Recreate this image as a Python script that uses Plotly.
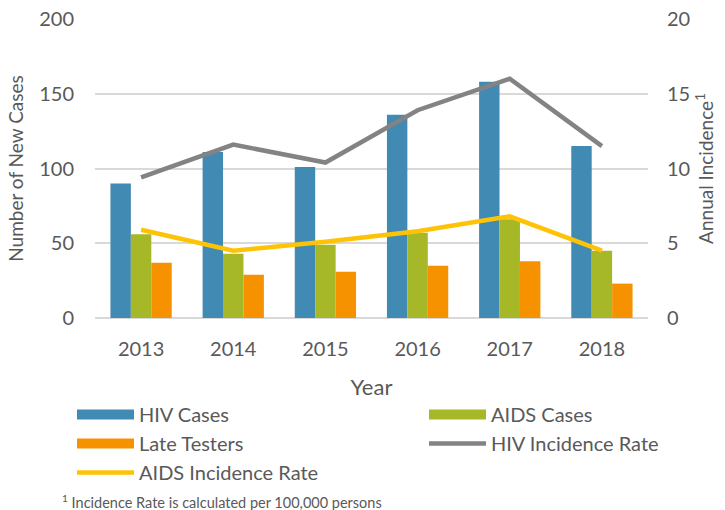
import plotly.graph_objects as go

years = ["2013", "2014", "2015", "2016", "2017", "2018"]
hiv_cases = [90, 111, 101, 136, 158, 115]
aids_cases = [56, 43, 49, 57, 66, 45]
late_testers = [37, 29, 31, 35, 38, 23]
hiv_rate = [9.4, 11.6, 10.4, 13.9, 16.0, 11.5]
aids_rate = [5.9, 4.5, 5.1, 5.8, 6.8, 4.5]

FONT = "Lato"
TXT = "#595959"
C_HIV, C_AIDS, C_LATE = "#418AB3", "#A6B727", "#F69200"
C_HIVR, C_AIDSR = "#838383", "#FEC306"

fig = go.Figure()
# bars (legend drawn through swatch entries below)
fig.add_trace(go.Bar(x=years, y=hiv_cases, name="HIV Cases", showlegend=False,
                     marker=dict(color=C_HIV, line=dict(width=0))))
fig.add_trace(go.Bar(x=years, y=aids_cases, name="AIDS Cases", showlegend=False,
                     marker=dict(color=C_AIDS, line=dict(width=0))))
fig.add_trace(go.Bar(x=years, y=late_testers, name="Late Testers", showlegend=False,
                     marker=dict(color=C_LATE, line=dict(width=0))))
# rate lines
fig.add_trace(go.Scatter(x=years, y=hiv_rate, name="HIV Incidence Rate", mode="lines",
                         line=dict(color=C_HIVR, width=4.5), yaxis="y2", legend="legend2",
                         legendrank=2))
fig.add_trace(go.Scatter(x=years, y=aids_rate, name="AIDS Incidence Rate", mode="lines",
                         line=dict(color=C_AIDSR, width=4.5), yaxis="y2", legend="legend",
                         legendrank=3))
# legend swatches for the bar series (wide rectangles as in the reference)
fig.add_trace(go.Scatter(x=[None], y=[None], name="HIV Cases", mode="lines",
                         line=dict(color=C_HIV, width=12), legend="legend", legendrank=1))
fig.add_trace(go.Scatter(x=[None], y=[None], name="Late Testers", mode="lines",
                         line=dict(color=C_LATE, width=12), legend="legend", legendrank=2))
fig.add_trace(go.Scatter(x=[None], y=[None], name="AIDS Cases", mode="lines",
                         line=dict(color=C_AIDS, width=12), legend="legend2", legendrank=1))

PLOT_TOP, PLOT_BOT = 19, 318
PH = PLOT_BOT - PLOT_TOP
PL, PW = 95, 553

def py(pix):
    return (PLOT_BOT - pix) / PH

def px(pix):
    return (pix - PL) / PW

leg_common = dict(orientation="v", xref="paper", yref="paper",
                  xanchor="left", yanchor="top", itemwidth=57,
                  font=dict(size=20, color=TXT, family=FONT), traceorder="normal",
                  bgcolor="rgba(0,0,0,0)", tracegroupgap=0)

fig.update_layout(
    width=725, height=510,
    margin=dict(l=PL, r=725 - PL - PW, t=PLOT_TOP, b=510 - PLOT_BOT),
    paper_bgcolor="white", plot_bgcolor="white",
    font=dict(family=FONT, size=20, color=TXT),
    barmode="group", bargap=0.335, bargroupgap=0,
    xaxis=dict(showgrid=False, showline=False, ticks="", ticklabelstandoff=17, automargin=False,
               tickfont=dict(size=20, color=TXT),
               title=dict(text="Year", font=dict(size=22, color=TXT), standoff=20)),
    yaxis=dict(range=[0, 200], dtick=50, showgrid=True, gridcolor="#D9D9D9", gridwidth=1.5,
               zeroline=True, zerolinecolor="#D9D9D9", zerolinewidth=1.5,
               ticks="", ticklabelstandoff=20, automargin=False,
               tickfont=dict(size=20, color=TXT),
               title=dict(text="Number of New Cases", font=dict(size=19, color=TXT), standoff=10)),
    yaxis2=dict(range=[0, 20], dtick=5, overlaying="y", side="right", showgrid=False,
                zeroline=False, ticks="", ticklabelstandoff=18, automargin=False,
                tickfont=dict(size=20, color=TXT),
                title=dict(text="Annual Incidence<sup>1</sup>", font=dict(size=19, color=TXT),
                           standoff=10)),
    legend=dict(x=px(72), y=py(395), **leg_common),
    legend2=dict(x=px(424), y=py(395), **leg_common),
    annotations=[dict(text="<sup>1</sup> Incidence Rate is calculated per 100,000 persons",
                      xref="paper", yref="paper", x=px(60), y=py(501), xanchor="left",
                      yanchor="middle", showarrow=False, font=dict(size=14.5, color=TXT))],
)

fig.write_html("out.html", config={"displayModeBar": False},
               post_script="document.body.style.margin='0';document.body.style.overflow='hidden';")
